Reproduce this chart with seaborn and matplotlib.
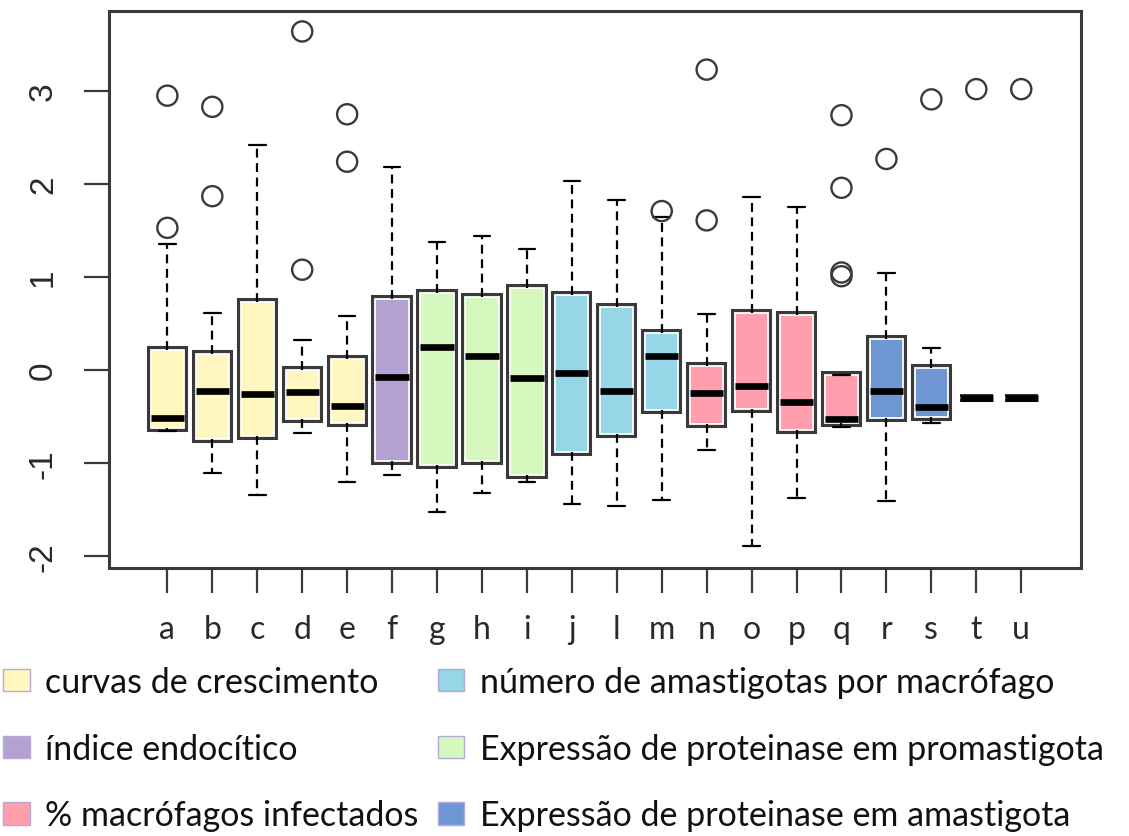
import numpy as np
import pandas as pd
import seaborn as sns
import matplotlib
matplotlib.use("Agg")
import matplotlib.pyplot as plt
from matplotlib.patches import Patch
import matplotlib.patheffects as pe

# ---------------- data ----------------
categories = ["a", "b", "c", "d", "e", "f", "g", "h", "i", "j",
              "l", "m", "n", "o", "p", "q", "r", "s", "t", "u"]
whisker_low = [-0.65, -1.10, -1.34, -0.67, -1.20, -1.13, -1.52, -1.32, -1.20, -1.44,
               -1.46, -1.39, -0.86, -1.89, -1.37, -0.61, -1.41, -0.57, -0.30, -0.30]
q1 = [-0.62, -0.74, -0.71, -0.52, -0.57, -0.98, -1.02, -0.98, -1.13, -0.88,
      -0.69, -0.43, -0.58, -0.42, -0.64, -0.57, -0.51, -0.50, -0.30, -0.30]
median = [-0.51, -0.22, -0.26, -0.23, -0.38, -0.07, 0.25, 0.15, -0.08, -0.03,
          -0.22, 0.15, -0.25, -0.17, -0.34, -0.52, -0.22, -0.39, -0.30, -0.30]
q3 = [0.22, 0.17, 0.73, 0.00, 0.12, 0.76, 0.83, 0.79, 0.88, 0.81,
      0.68, 0.40, 0.05, 0.62, 0.59, -0.05, 0.34, 0.02, -0.30, -0.30]
whisker_high = [1.36, 0.61, 2.42, 0.33, 0.58, 2.18, 1.38, 1.44, 1.30, 2.03,
                1.83, 1.65, 0.60, 1.86, 1.75, -0.05, 1.04, 0.24, -0.30, -0.30]
outliers = {
    "a": [2.95, 1.53], "b": [2.83, 1.87], "d": [3.64, 1.08], "e": [2.75, 2.24],
    "m": [1.71], "n": [3.23, 1.61], "q": [2.74, 1.96, 1.05, 1.01],
    "r": [2.27], "s": [2.91], "t": [3.02], "u": [3.02],
}
groups = ["curvas de crescimento", "índice endocítico", "% macrófagos infectados",
          "número de amastigotas por macrófago",
          "Expressão de proteinase em promastigota",
          "Expressão de proteinase em amastigota"]
group_colors = ["#FFF7BF", "#B3A1D4", "#FF9EAD", "#96D6E7", "#D6F8BF", "#6E96D3"]
category_group = [0, 0, 0, 0, 0, 1, 4, 4, 4, 3, 3, 3, 2, 2, 2, 2, 5, 5, 5, 5]

# ---------------- tidy tables ----------------
rows = []
for i, c in enumerate(categories):
    for v in (whisker_low[i], q1[i], median[i], q3[i], whisker_high[i]):
        rows.append({"cat": c, "value": v, "grupo": groups[category_group[i]]})
df = pd.DataFrame(rows)
out_df = pd.DataFrame([{"cat": c, "value": v} for c, vs in outliers.items() for v in vs])
palette = dict(zip(groups, group_colors))

# ---------------- figure ----------------
sns.set_style("white")
plt.rcParams["font.family"] = ["Liberation Sans", "DejaVu Sans"]

fig = plt.figure(figsize=(11.29, 8.37), dpi=100)
ax = fig.add_axes([0.0965, 0.3202, 0.861, 0.6655])

edge = "#3a3a3a"
sns.boxplot(data=df, x="cat", y="value", hue="grupo", order=categories,
            hue_order=groups, palette=palette, dodge=False, width=0.74,
            whis=(0, 100), showfliers=False, linewidth=1.3, linecolor="white",
            legend=False, saturation=1, ax=ax,
            medianprops=dict(color="black", linewidth=4.8, solid_capstyle="butt"),
            whiskerprops=dict(color="black", linewidth=1.6, linestyle=(0, (4, 2.5))),
            capprops=dict(color="black", linewidth=1.6))

# R-style box outline: dark outer border with a thin white inner line
for p in ax.patches:
    p.set_edgecolor("white")
    p.set_linewidth(1.3)
    p.set_path_effects([pe.Stroke(linewidth=5.8, foreground=edge), pe.Normal()])

sns.stripplot(data=out_df, x="cat", y="value", order=categories, jitter=False,
              marker="o", s=14.5, facecolor="none", edgecolor="#3a3a3a",
              linewidth=1.7, ax=ax, zorder=5)

ax.set_xlim(-1.3, 20.33)
ax.set_ylim(-2.125, 3.86)
ax.set_xlabel("")
ax.set_ylabel("")
ax.set_yticks([-2, -1, 0, 1, 2, 3])
ax.set_yticklabels(["-2", "-1", "0", "1", "2", "3"], rotation=90, va="center",
                   fontsize=24, color="#2a2a2a")
ax.set_xticks(range(len(categories)))
ax.set_xticklabels(categories, fontsize=23, family="Lato", color="#2a2a2a")
ax.tick_params(axis="y", length=18, width=1.6, color=edge, pad=18, direction="out", left=True)
ax.tick_params(axis="x", length=18, width=1.6, color=edge, pad=15, direction="out", bottom=True)
for sp in ax.spines.values():
    sp.set_color(edge)
    sp.set_linewidth(2.2)

# ---------------- legend ----------------
handles = [Patch(facecolor=col, edgecolor="#B8A8D8", linewidth=1.0) for col in group_colors]
leg_kw = dict(frameon=False, handlelength=0.77, handleheight=0.64,
              handletextpad=0.45, labelspacing=1.02, borderpad=0, borderaxespad=0,
              prop={"family": "Lato", "size": 24.5}, labelcolor="#111111")
leg1 = fig.legend(handles[:3], groups[:3], loc="upper left",
                  bbox_to_anchor=(0.003, 1 - 667 / 837), **leg_kw)
leg2 = fig.legend(handles[3:], groups[3:], loc="upper left",
                  bbox_to_anchor=(438 / 1129, 1 - 667 / 837), **leg_kw)

fig.savefig("out.png", dpi=100)
